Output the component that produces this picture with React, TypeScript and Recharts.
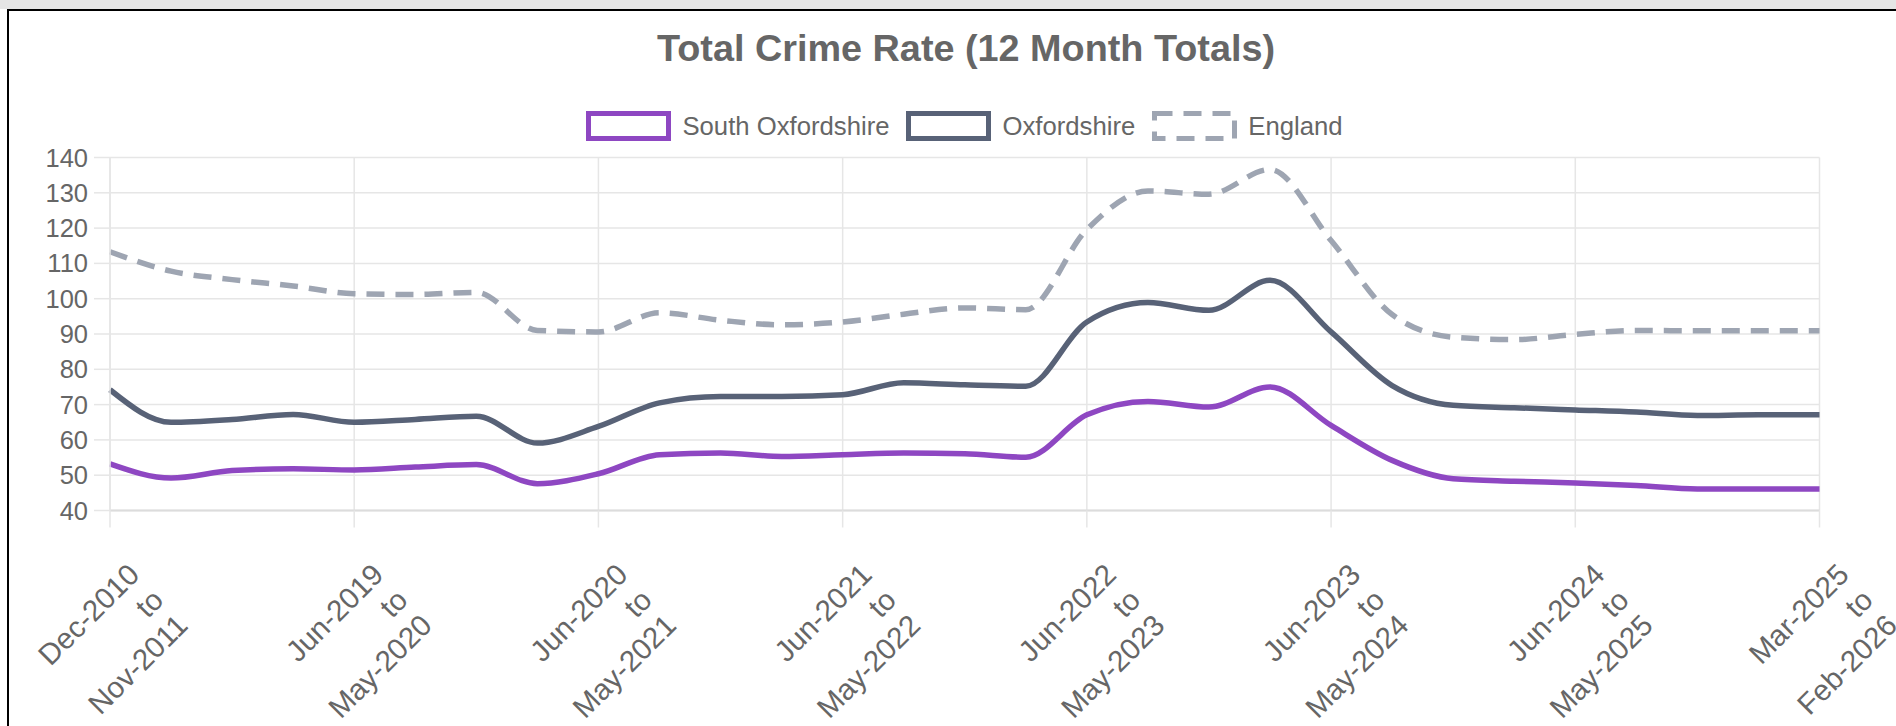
import React from "react";
import { LineChart, Line, XAxis, YAxis, CartesianGrid } from "recharts";

// 12-month rolling periods (only every 4th one is labelled on the axis)
const periods = [
  "Dec-2010 to Nov-2011",
  "Sep-2018 to Aug-2019",
  "Dec-2018 to Nov-2019",
  "Mar-2019 to Feb-2020",
  "Jun-2019 to May-2020",
  "Sep-2019 to Aug-2020",
  "Dec-2019 to Nov-2020",
  "Mar-2020 to Feb-2021",
  "Jun-2020 to May-2021",
  "Sep-2020 to Aug-2021",
  "Dec-2020 to Nov-2021",
  "Mar-2021 to Feb-2022",
  "Jun-2021 to May-2022",
  "Sep-2021 to Aug-2022",
  "Dec-2021 to Nov-2022",
  "Mar-2022 to Feb-2023",
  "Jun-2022 to May-2023",
  "Sep-2022 to Aug-2023",
  "Dec-2022 to Nov-2023",
  "Mar-2023 to Feb-2024",
  "Jun-2023 to May-2024",
  "Sep-2023 to Aug-2024",
  "Dec-2023 to Nov-2024",
  "Mar-2024 to Feb-2025",
  "Jun-2024 to May-2025",
  "Sep-2024 to Aug-2025",
  "Dec-2024 to Nov-2025",
  "Feb-2025 to Jan-2026",
  "Mar-2025 to Feb-2026",
];

const southOxfordshire = [
  53.2, 49.2, 51.3, 51.8, 51.5, 52.3, 53.0, 47.6, 50.4, 55.8, 56.3, 55.3, 55.8, 56.3, 56.1,
  55.1, 67.1, 70.9, 69.3, 75.0, 64.1, 54.2, 49.0, 48.3, 47.8, 47.1, 46.1, 46.1, 46.1,
];

const oxfordshire = [
  74.2, 65.0, 65.8, 67.2, 65.0, 65.8, 66.7, 59.1, 63.8, 70.5, 72.3, 72.3, 72.8, 76.2, 75.6,
  75.2, 93.4, 98.9, 96.7, 105.2, 90.6, 75.4, 69.8, 69.1, 68.5, 67.9, 66.9, 67.1, 67.1,
];

const england = [
  113.3, 107.8, 105.4, 103.6, 101.4, 101.2, 101.8, 91.0, 90.6, 96.0, 93.9, 92.6, 93.4, 95.6,
  97.4, 96.9, 119.6, 130.5, 129.6, 136.6, 116.5, 95.5, 89.1, 88.4, 89.9, 91.0, 90.9, 90.9, 90.9,
];

const yTicks = [40, 50, 60, 70, 80, 90, 100, 110, 120, 130, 140];

const series = [
  { key: "south", name: "South Oxfordshire", color: "#8e47c2", dash: undefined },
  { key: "oxon", name: "Oxfordshire", color: "#586277", dash: undefined },
  { key: "england", name: "England", color: "#9ea5b2", dash: "18 11" },
];

const data = periods.map((period, i) => ({
  period,
  south: southOxfordshire[i],
  oxon: oxfordshire[i],
  england: england[i],
}));

const FONT = "'Liberation Sans', Arial, Helvetica, sans-serif";
const TEXT = "#666";
const GRID = "#e6e6e6";

// "Jun-2019 to May-2020" -> three right-aligned lines, rotated 45deg
function PeriodTick(props: any) {
  const { x, y, payload } = props;
  const lines = String(payload.value).split(" to ");
  const parts = [lines[0], "to", lines[1]];
  return (
    <g>
      {parts.map((t, i) => {
        const tx = x + 31 + i * 24.2;
        const ty = y + 47 + i * 25.3;
        return (
          <text
            key={i}
            x={tx}
            y={ty}
            textAnchor="end"
            transform={`rotate(-45 ${tx} ${ty})`}
            fill={TEXT}
            fontSize={29.5}
            fontFamily={FONT}
          >
            {t}
          </text>
        );
      })}
    </g>
  );
}

function LegendBox({ color, dash }: { color: string; dash?: string }) {
  return (
    <svg width={85} height={30} style={{ display: "block" }}>
      <rect
        x={2.5}
        y={2.5}
        width={80}
        height={25}
        fill="#fff"
        stroke={color}
        strokeWidth={5}
        strokeDasharray={dash}
      />
    </svg>
  );
}

export default function App() {
  return (
    <div
      style={{
        position: "absolute",
        top: 0,
        left: 0,
        width: 1896,
        height: 726,
        background: "#fff",
        overflow: "hidden",
        fontFamily: FONT,
      }}
    >
      <div style={{ position: "absolute", top: 0, left: 0, width: 1896, height: 9, background: "#e5e5e5" }} />
      <div
        style={{
          position: "absolute",
          top: 9,
          left: 7,
          width: 1900,
          height: 730,
          borderTop: "2px solid #000",
          borderLeft: "2px solid #000",
        }}
      />

      <svg width={1896} height={80} style={{ position: "absolute", top: 0, left: 0 }}>
        <text x={966} y={61} textAnchor="middle" fontSize={37.8} fontWeight="bold" fill={TEXT} fontFamily={FONT}>
          Total Crime Rate (12 Month Totals)
        </text>
      </svg>

      <div
        style={{
          position: "absolute",
          top: 111,
          left: 0,
          width: 1929,
          display: "flex",
          justifyContent: "center",
          alignItems: "center",
        }}
      >
        {series.map((s, i) => (
          <div key={s.key} style={{ display: "flex", alignItems: "center", marginRight: i < series.length - 1 ? 17 : 0 }}>
            <LegendBox color={s.color} dash={s.dash} />
            <span style={{ marginLeft: 11, fontSize: 25.7, color: TEXT, lineHeight: "30px" }}>{s.name}</span>
          </div>
        ))}
      </div>

      <div style={{ position: "absolute", top: 0, left: 0 }}>
        <LineChart
          width={1896}
          height={726}
          data={data}
          margin={{ top: 157.5, right: 76.5, bottom: 15.5, left: 0 }}
        >
          <CartesianGrid stroke={GRID} strokeWidth={1.5} />
          <XAxis
            dataKey="period"
            interval={3}
            height={200}
            tickSize={17}
            tickMargin={2}
            tickLine={{ stroke: GRID, strokeWidth: 1.5 }}
            axisLine={{ stroke: "#dcdcdc", strokeWidth: 2 }}
            tick={<PeriodTick />}
          />
          <YAxis
            type="number"
            domain={[40, 140]}
            ticks={yTicks}
            width={110}
            tickSize={16}
            tickMargin={6}
            tickLine={{ stroke: GRID, strokeWidth: 1.5 }}
            axisLine={{ stroke: GRID, strokeWidth: 1.5 }}
            tick={{ fill: TEXT, fontSize: 25.5, fontFamily: FONT }}
          />
          {series.map((s) => (
            <Line
              key={s.key}
              type="monotone"
              dataKey={s.key}
              name={s.name}
              stroke={s.color}
              strokeWidth={5.5}
              strokeDasharray={s.dash}
              dot={false}
              activeDot={false}
              isAnimationActive={false}
            />
          ))}
        </LineChart>
      </div>
    </div>
  );
}
